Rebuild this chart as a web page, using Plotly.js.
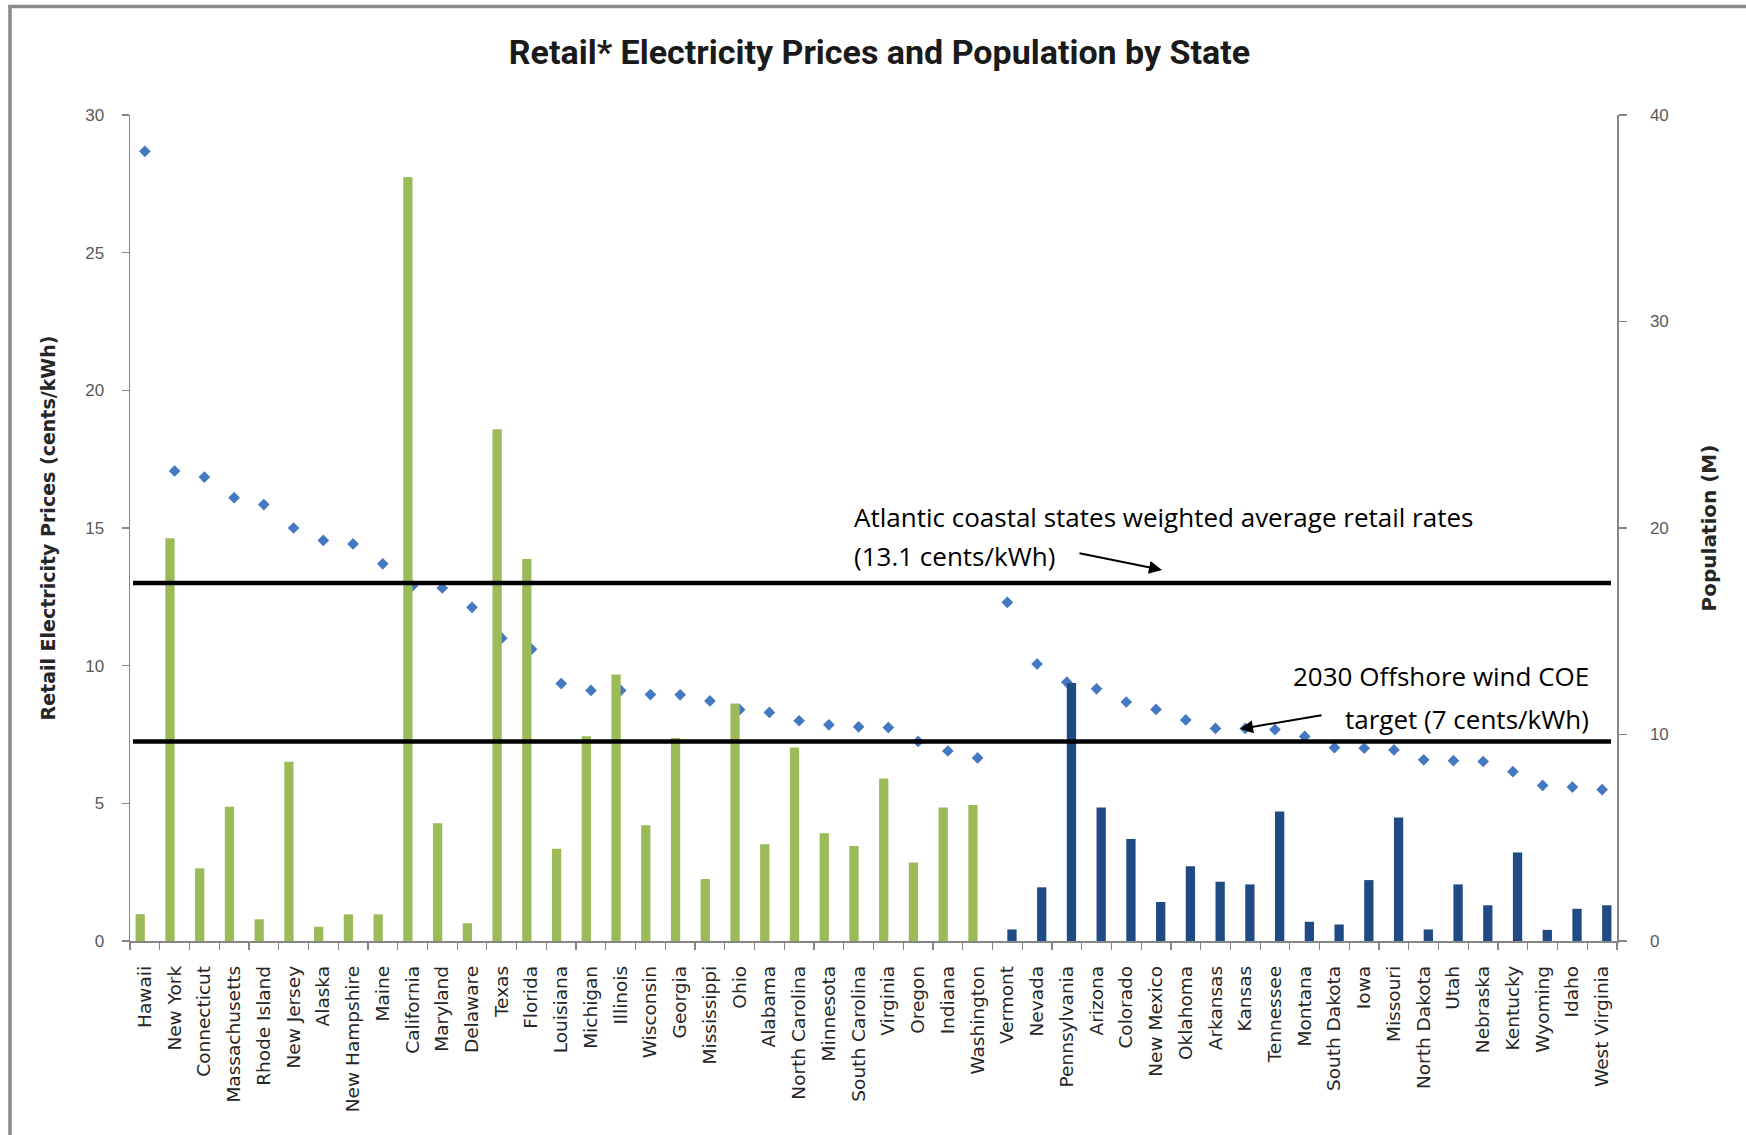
<!DOCTYPE html>
<html>
<head>
<meta charset="utf-8">
<script src="https://cdn.plot.ly/plotly-3.0.1.min.js"></script>
<style>
html,body{margin:0;padding:0;background:#fff;}
#chart{width:1746px;height:1135px;}
</style>
</head>
<body>
<div id="chart"></div>
<script>
// ---- Data ----
const coastalStates = ["Hawaii","New York","Connecticut","Massachusetts","Rhode Island","New Jersey","Alaska","New Hampshire","Maine","California","Maryland","Delaware","Texas","Florida","Louisiana","Michigan","Illinois","Wisconsin","Georgia","Mississippi","Ohio","Alabama","North Carolina","Minnesota","South Carolina","Virginia","Oregon","Indiana","Washington"];
const inlandStates = ["Vermont","Nevada","Pennsylvania","Arizona","Colorado","New Mexico","Oklahoma","Arkansas","Kansas","Tennessee","Montana","South Dakota","Iowa","Missouri","North Dakota","Utah","Nebraska","Kentucky","Wyoming","Idaho","West Virginia"];

// Retail electricity price (cents/kWh)
const coastalPrice = [28.68,17.07,16.85,16.1,15.85,15.0,14.55,14.42,13.7,12.9,12.82,12.12,11.0,10.6,9.35,9.1,9.1,8.95,8.94,8.72,8.4,8.3,8.0,7.85,7.78,7.75,7.25,6.9,6.65];
const inlandPrice = [12.3,10.06,9.4,9.16,8.68,8.41,8.03,7.72,7.72,7.68,7.43,7.02,7.0,6.94,6.58,6.55,6.52,6.15,5.65,5.59,5.5];

// Population (M)
const coastalPop = [1.3,19.5,3.52,6.5,1.05,8.68,0.69,1.29,1.29,37.0,5.7,0.86,24.78,18.5,4.47,9.92,12.9,5.6,9.83,3.0,11.5,4.69,9.37,5.22,4.6,7.87,3.8,6.46,6.58];
const inlandPop = [0.56,2.6,12.5,6.46,4.94,1.89,3.62,2.87,2.74,6.27,0.93,0.8,2.95,5.98,0.56,2.74,1.73,4.28,0.54,1.56,1.73];

// Reference lines (cents/kWh, as drawn)
const atlanticLine = 13.0;
const offshoreLine = 7.25;

// ---- Build traces ----
const categories = coastalStates.concat(inlandStates);
const prices = coastalPrice.concat(inlandPrice);
const greenPop = coastalPop.concat(inlandStates.map(() => null));
const bluePop = coastalStates.map(() => null).concat(inlandPop);

const L = 130, R = 1617, T = 115, B = 941, W = 1746, H = 1135;
const px2x = p => (p - L) / (R - L);
const py2y = p => (B - p) / (B - T);

const gray = '#868686';

const traces = [
  {type:'bar', name:'Population (coastal)', x:categories, y:greenPop, yaxis:'y2',
   marker:{color:'#9BBB59'}, hoverinfo:'x+y'},
  {type:'bar', name:'Population (inland)', x:categories, y:bluePop, yaxis:'y2',
   marker:{color:'#1F4A84'}, hoverinfo:'x+y'},
  {type:'scatter', mode:'markers', name:'Retail price', x:categories, y:prices, yaxis:'y',
   marker:{symbol:'diamond', size:9, color:'#4479C1'}}
];

const tickFont = {family:'Liberation Sans, Arial, sans-serif', size:17, color:'#595959'};
const annFont = {family:'Open Sans, sans-serif', size:26, color:'#000'};

const layout = {
  width:W, height:H,
  margin:{l:L, r:W-R, t:T, b:H-B, pad:0},
  paper_bgcolor:'#fff', plot_bgcolor:'#fff',
  showlegend:false,
  barmode:'group', bargap:0.375, bargroupgap:0,
  title:{text:'Retail* Electricity Prices and Population by State',
         font:{family:'Roboto, sans-serif', size:34, color:'#1a1a1a', weight:700},
         x:880/W, xanchor:'center', xref:'paper', y:1-52/H, yanchor:'middle', yref:'container'},
  xaxis:{type:'category', categoryorder:'array', categoryarray:categories,
         range:[-0.5, categories.length - 0.5], autorange:false,
         tickangle:-90, ticks:'outside', tickson:'boundaries', ticklen:7, tickcolor:gray, tickwidth:1.2,
         showline:true, linecolor:gray, linewidth:1.5, showgrid:false, zeroline:false,
         ticklabelstandoff:16,
         tickfont:{family:'DejaVu Sans, sans-serif', size:18.5, color:'#262626'}},
  yaxis:{range:[0,30], dtick:5, ticks:'outside', ticklen:7, tickcolor:gray, tickwidth:1.2,
         showline:true, linecolor:gray, linewidth:1.5, showgrid:false, zeroline:false,
         ticklabelstandoff:14, tickfont:tickFont,
         title:{text:'Retail Electricity Prices (cents/kWh)', standoff:24,
                font:{family:'DejaVu Sans, sans-serif', size:19, color:'#262626', weight:700}}},
  yaxis2:{range:[0,40], dtick:10, overlaying:'y', side:'right', ticks:'outside', ticklen:8,
          tickcolor:gray, tickwidth:1.2, showline:true, linecolor:gray, linewidth:1.5,
          showgrid:false, zeroline:false, ticklabelstandoff:20, tickfont:tickFont,
          title:{text:'Population (M)', standoff:34,
                 font:{family:'DejaVu Sans, sans-serif', size:20, color:'#262626', weight:700}}},
  shapes:[
    {type:'line', xref:'paper', yref:'y', x0:px2x(133), x1:px2x(1611), y0:atlanticLine, y1:atlanticLine,
     line:{color:'#000', width:4.5}},
    {type:'line', xref:'paper', yref:'y', x0:px2x(133), x1:px2x(1611), y0:offshoreLine, y1:offshoreLine,
     line:{color:'#000', width:4.5}},
    // picture frame (left and top edges)
    {type:'line', xref:'paper', yref:'paper', x0:px2x(10), x1:px2x(10), y0:py2y(5), y1:py2y(H),
     line:{color:'#8a8a8a', width:3.5}},
    {type:'line', xref:'paper', yref:'paper', x0:px2x(8.5), x1:px2x(W), y0:py2y(6.5), y1:py2y(6.5),
     line:{color:'#8a8a8a', width:3.5}}
  ],
  annotations:[
    {xref:'paper', yref:'paper', x:px2x(852), y:py2y(517), xanchor:'left', yanchor:'middle', showarrow:false,
     text:'Atlantic coastal states weighted average retail rates', font:annFont},
    {xref:'paper', yref:'paper', x:px2x(852), y:py2y(556), xanchor:'left', yanchor:'middle', showarrow:false,
     text:'(13.1 cents/kWh)', font:annFont},
    {xref:'paper', yref:'paper', x:px2x(1591), y:py2y(676), xanchor:'right', yanchor:'middle', showarrow:false,
     text:'2030 Offshore wind COE', font:annFont},
    {xref:'paper', yref:'paper', x:px2x(1591), y:py2y(719), xanchor:'right', yanchor:'middle', showarrow:false,
     text:'target (7 cents/kWh)', font:annFont},
    {xref:'paper', yref:'paper', x:px2x(1162), y:py2y(570), text:'', showarrow:true,
     ax:-84, ay:-17, arrowhead:2, arrowsize:1.3, arrowwidth:2, arrowcolor:'#000'},
    {xref:'paper', yref:'paper', x:px2x(1240), y:py2y(729), text:'', showarrow:true,
     ax:83, ay:-14, arrowhead:2, arrowsize:1.3, arrowwidth:2, arrowcolor:'#000'}
  ]
};

Plotly.newPlot('chart', traces, layout, {displayModeBar:false, staticPlot:true});
</script>
</body>
</html>
